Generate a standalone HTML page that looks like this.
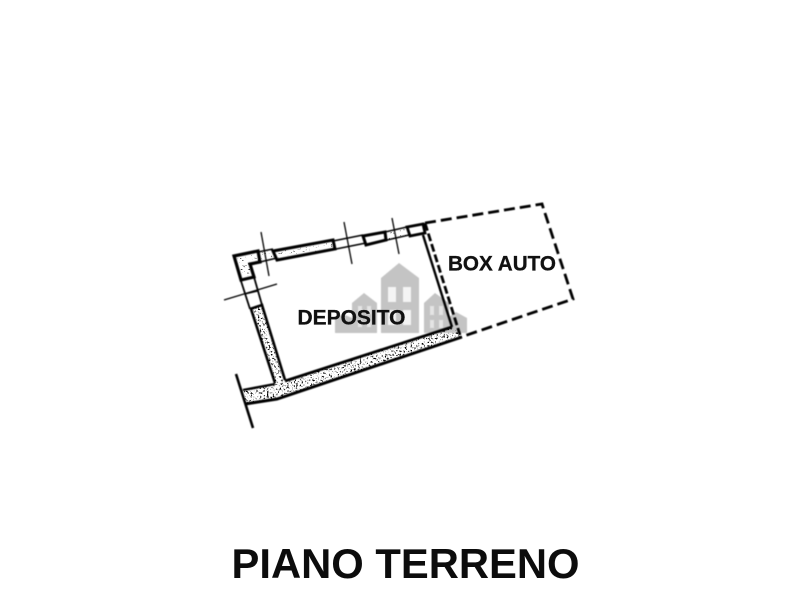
<!DOCTYPE html>
<html><head><meta charset="utf-8"><style>
html,body{margin:0;padding:0;background:#fff}
svg{display:block}
text{font-family:"Liberation Sans",sans-serif;font-weight:bold;fill:#111}
</style></head><body>
<svg width="800" height="600" viewBox="0 0 800 600" xmlns="http://www.w3.org/2000/svg">
<defs>
<filter id="b" x="-5%" y="-5%" width="110%" height="110%"><feGaussianBlur stdDeviation="0.4"/></filter>
<filter id="w" x="-5%" y="-5%" width="110%" height="110%"><feGaussianBlur stdDeviation="0.5"/></filter>
<filter id="n" x="0" y="0" width="100%" height="100%" filterUnits="objectBoundingBox">
<feTurbulence type="fractalNoise" baseFrequency="0.55" numOctaves="2" seed="7" result="t"/>
<feColorMatrix in="t" type="matrix" values="0 0 0 0 0  0 0 0 0 0  0 0 0 0 0  5 5 0 0 -5.4" result="m"/>
<feComposite in="m" in2="SourceAlpha" operator="in"/>
<feGaussianBlur stdDeviation="0.35"/>
</filter>
<filter id="n2" x="0" y="0" width="100%" height="100%" filterUnits="objectBoundingBox">
<feTurbulence type="fractalNoise" baseFrequency="0.55" numOctaves="2" seed="3" result="t"/>
<feColorMatrix in="t" type="matrix" values="0 0 0 0 0  0 0 0 0 0  0 0 0 0 0  5 5 0 0 -6.2" result="m"/>
<feComposite in="m" in2="SourceAlpha" operator="in"/>
<feGaussianBlur stdDeviation="0.35"/>
</filter>
</defs>
<!-- watermark -->
<g fill="#c4c4c4" filter="url(#w)">
<path d="M381 333V278L399 263L419 278V333Z"/>
<path d="M352 333V303L364 293L377 303V333Z"/>
<path d="M335 333V318L343 314L352 318V333Z"/>
<path d="M424 333V303L435 293L449 303V333Z"/>
<path d="M449 333V317L456 312L467 318V333Z"/>
</g>
<g fill="#f4f4f4" filter="url(#w)">
<rect x="388" y="287" width="8" height="15"/><rect x="403" y="287" width="8" height="15"/>
<rect x="403" y="310" width="8" height="15"/><rect x="388" y="310" width="8" height="15"/>
<g fill="#e4e4e4">
<rect x="430" y="306" width="4" height="9"/><rect x="439" y="306" width="4" height="9"/>
<rect x="430" y="320" width="4" height="8"/><rect x="439" y="320" width="4" height="8"/>
<rect x="358" y="306" width="4" height="8"/><rect x="367" y="306" width="4" height="8"/>
<rect x="358" y="320" width="4" height="7"/><rect x="367" y="320" width="4" height="7"/>
</g>
</g>
<!-- speckle -->
<g fill="#000" filter="url(#n)">
<path d="M244 391L275 384L285 381L452 327L462 337L277 399L245 404Z"/>
<path d="M251 309L262 305L285 381L275 384Z"/>
</g>
<g fill="#000" filter="url(#n2)">
<path d="M236 258L258 253L259 261L249 263L252 276L242 279Z"/>
<path d="M258 253L273 250L276 259L260 262Z"/>
<path d="M274 252L333 241L334 248L277 259Z"/>
<path d="M385 233L407 228L409 235L387 240Z"/>
</g>
<g filter="url(#b)" fill="none" stroke="#050505" stroke-linejoin="miter">
<!-- thin grid lines -->
<g stroke-width="1.3">
<path d="M261 232L269 276"/><path d="M344 222L352 264"/><path d="M392 218L399 254"/>
<path d="M224 300L277 284"/>
</g>
<!-- top wall thin lines -->
<g stroke-width="1.5">
<path d="M258 252L273 249"/><path d="M260 262L277 258"/>
<path d="M333 241L363 235"/><path d="M336 249L366 243"/>
<path d="M385 232L407 227"/><path d="M387 240L409 235"/>
</g>
<!-- NW corner -->
<path d="M234 256L258 251L260 262L250 264L254 277L241 280Z" stroke-width="3.2"/>
<path d="M241 281L250 309" stroke-width="1.8"/><path d="M254 277L262 305" stroke-width="1.8"/>
<path d="M245 294L258 291" stroke-width="1.2"/>
<!-- windows -->
<path d="M273 251L333 240L335 249L277 260Z" stroke-width="3"/>
<path d="M363 236L385 232L386 240L366 245Z" stroke-width="3"/>
<path d="M407 227L423 224L425 233L410 236Z" stroke-width="2.8"/>
<!-- west wall -->
<path d="M250 309L262 305L285 380" stroke-width="2.6"/>
<path d="M251 309L275 383" stroke-width="2.6"/>
<!-- south + stub -->
<path d="M285 381L452 327" stroke-width="2.8"/>
<path d="M243 390L275 384" stroke-width="2.4"/>
<path d="M245 404L277 399L462 337" stroke-width="3"/>
<!-- stub end -->
<path d="M236 374L253 428" stroke-width="2.6"/>
<!-- east wall -->
<path d="M423 235L452 327" stroke-width="2.4"/>
<path d="M425 223L460 335" stroke-width="2.8" stroke-dasharray="8 3"/>
<!-- box auto -->
<path d="M425 223L542 204L573 299L464 336" stroke-width="2.8" stroke-dasharray="11 5"/>
</g>
<text x="297.5" y="324.5" font-size="21" textLength="108" lengthAdjust="spacingAndGlyphs" stroke="#111" stroke-width=".3">DEPOSITO</text>
<text x="448" y="270.5" font-size="21" textLength="108" lengthAdjust="spacingAndGlyphs" stroke="#111" stroke-width=".3">BOX AUTO</text>
<text x="231.5" y="578" font-size="42" style="fill:#0c0c0c" textLength="348" lengthAdjust="spacingAndGlyphs">PIANO TERRENO</text>
</svg>
</body></html>
